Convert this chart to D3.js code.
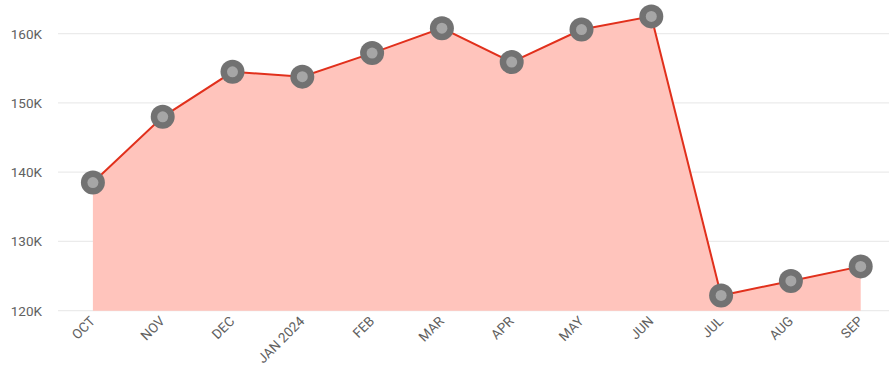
<!DOCTYPE html>
<html><head><meta charset="utf-8">
<script src="https://cdn.jsdelivr.net/npm/d3@7"></script>
<style>
html,body{margin:0;padding:0;background:#fff;}
svg{display:block;font-family:Roboto,"Noto Sans",sans-serif;}
</style></head>
<body><svg id="c" width="889" height="382"></svg>
<script>
const months = ["OCT","NOV","DEC","JAN 2024","FEB","MAR","APR","MAY","JUN","JUL","AUG","SEP"];
const values = [138500,148000,154500,153800,157200,160800,155900,160600,162500,122200,124300,126400];
const yTicks = [120000,130000,140000,150000,160000];
const yTickLabels = ["120K","130K","140K","150K","160K"];

const svg = d3.select("#c");
const x = d3.scalePoint().domain(months).range([58, 895.6]).padding(0.5);
const y = d3.scaleLinear().domain([120000,160000]).range([310.7, 33.7]);

// gridlines
svg.append("g").selectAll("line").data(yTicks).join("line")
  .attr("x1",58).attr("x2",889)
  .attr("y1",d=>y(d)).attr("y2",d=>y(d))
  .attr("stroke","#ebebeb").attr("stroke-width",1.2);

// y labels
svg.append("g").selectAll("text").data(yTicks).join("text")
  .attr("x",42).attr("y",d=>y(d)).attr("dy","0.36em")
  .attr("text-anchor","end").attr("font-size",13.5).attr("fill","#616161")
  .text((d,i)=>yTickLabels[i]);

const data = months.map((m,i)=>({m, v:values[i]}));
const curve = d3.curveLinear;

svg.append("path").datum(data)
  .attr("d", d3.area().x(d=>x(d.m)).y0(y(120000)).y1(d=>y(d.v)).curve(curve))
  .attr("fill","#ffc4bc");

svg.append("path").datum(data)
  .attr("d", d3.line().x(d=>x(d.m)).y(d=>y(d.v)).curve(curve))
  .attr("fill","none").attr("stroke","#e1301c").attr("stroke-width",2);

const mk = svg.append("g").selectAll("g").data(data).join("g")
  .attr("transform",d=>`translate(${x(d.m)},${y(d.v)})`);
mk.append("circle").attr("r",12).attr("fill","#727272");
mk.append("circle").attr("r",5.5).attr("fill","#a6a6a6");

// x labels
svg.append("g").selectAll("text").data(months).join("text")
  .attr("transform",d=>`translate(${x(d)+3},${322}) rotate(-45)`)
  .attr("text-anchor","end").attr("font-size",13.5).attr("fill","#616161")
  .text(d=>d);
</script></body></html>
